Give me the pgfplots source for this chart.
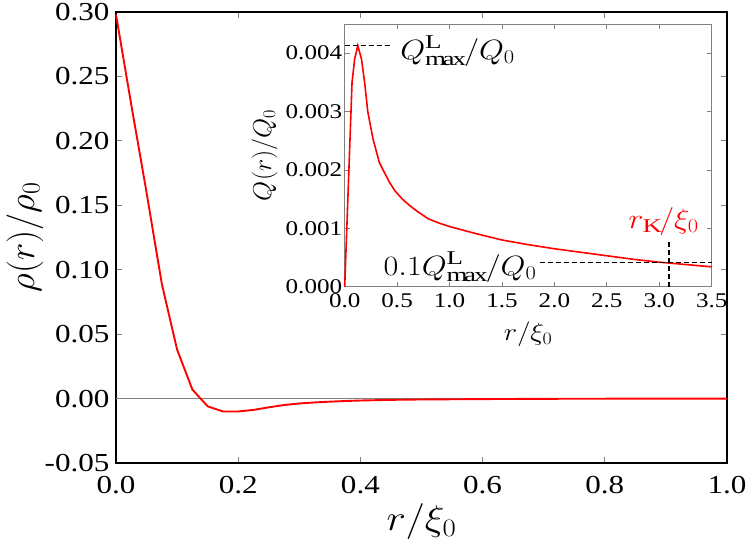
\RequirePackage{fix-cm}
\documentclass[border=0pt]{standalone}
\usepackage{fontspec}
\setmainfont{Liberation Serif}[FakeStretch=1.2]
\usepackage{graphicx}
\usepackage{pgfplots}
\pgfplotsset{compat=1.18}
\newcommand{\hs}[1]{\scalebox{1.15}[1]{#1}}
\begin{document}
\begin{tikzpicture}
\useasboundingbox (-116bp,-84bp) rectangle (631bp,463bp);
\begin{axis}[
  at={(0bp,0bp)}, anchor=south west,
  scale only axis, width=611bp, height=451bp,
  xmin=0, xmax=1, ymin=-0.05, ymax=0.30,
  xtick={0,0.2,0.4,0.6,0.8,1},
  xticklabels={0.0,0.2,0.4,0.6,0.8,1.0},
  ytick={-0.05,0,0.05,0.1,0.15,0.2,0.25,0.3},
  yticklabels={-0.05,0.00,0.05,0.10,0.15,0.20,0.25,0.30},
  xtick pos=both, ytick pos=both, tick align=inside,
  major tick length=6bp,
  tick style={gray, line width=0.8bp},
  axis line style={black, line width=1.2bp},
  ticklabel style={font=\fontsize{26}{28}\selectfont},
  xticklabel style={yshift=-10bp},
  yticklabel style={xshift=-3bp},
  xlabel={\hs{$r/\xi_0$}}, ylabel={$\rho(r)/\rho_0$},
  xlabel style={font=\fontsize{36}{38}\selectfont, at={(axis description cs:0.5,0)}, anchor=center, yshift=-59bp},
  ylabel style={font=\fontsize{37}{39}\selectfont, at={(axis description cs:0,0.5)}, anchor=center, yshift=91bp},
  clip=false,
]
\draw[gray, line width=1bp] (axis cs:0,0) -- (axis cs:1,0);
\addplot[red, line width=1.9bp] coordinates {
(0,0.298) (0.025,0.228) (0.05,0.160) (0.075,0.089) (0.1,0.038)
(0.125,0.007) (0.15,-0.006) (0.175,-0.010) (0.2,-0.010) (0.225,-0.0088)
(0.25,-0.0068) (0.275,-0.0050) (0.3,-0.0038) (0.325,-0.0030) (0.35,-0.0024)
(0.375,-0.0019) (0.4,-0.0015) (0.45,-0.0010) (0.5,-0.0007) (0.6,-0.0004)
(0.7,-0.0002) (0.8,-0.0001) (0.9,-0.00005) (1.0,0)
};
\end{axis}
\begin{axis}[
  at={(228.7bp,176.3bp)}, anchor=south west,
  scale only axis, width=367bp, height=262.7bp,
  xmin=0, xmax=3.5, ymin=0, ymax=0.0045,
  axis background/.style={fill=white},
  xtick={0,0.5,1,1.5,2,2.5,3,3.5},
  xticklabels={0.0,0.5,1.0,1.5,2.0,2.5,3.0,3.5},
  ytick={0,0.001,0.002,0.003,0.004},
  yticklabels={0.000,0.001,0.002,0.003,0.004},
  scaled y ticks=false,
  xtick pos=both, ytick pos=both, tick align=inside,
  major tick length=5bp,
  tick style={gray, line width=0.7bp},
  axis line style={gray, line width=0.8bp},
  ticklabel style={font=\fontsize{21}{23}\selectfont},
  xticklabel style={yshift=-3bp},
  yticklabel style={xshift=1bp},
  xlabel={\hs{$r/\xi_0$}}, ylabel={$Q(r)/Q_0$},
  xlabel style={font=\fontsize{25}{27}\selectfont, at={(axis description cs:0.5,0)}, anchor=center, yshift=-48bp},
  ylabel style={font=\fontsize{26}{28}\selectfont, at={(axis description cs:0,0.5)}, anchor=center, yshift=80bp},
  clip=false,
]
\addplot[red, line width=1.6bp] coordinates {
(0,0) (0.07,0.0035) (0.095,0.0039) (0.125,0.00413) (0.16,0.0039)
(0.19,0.0035) (0.22,0.0030) (0.27,0.00253) (0.30,0.00233) (0.33,0.00213) (0.38,0.00195)
(0.43,0.00178) (0.48,0.00164) (0.55,0.0015) (0.62,0.00139) (0.7,0.00128) (0.8,0.00116)
(0.9,0.00109) (1.0,0.00103) (1.25,0.00091)
(1.5,0.0008) (1.75,0.00072) (2.0,0.00065) (2.25,0.00059) (2.5,0.00053)
(2.75,0.00047) (3.0,0.00042) (3.25,0.00038) (3.5,0.00034)
};
\draw[black, line width=1.5bp, dash pattern=on 5bp off 3bp] (axis cs:0,0.00413) -- (axis cs:0.43,0.00413);
\draw[black, line width=1.5bp, dash pattern=on 5bp off 3bp] (axis cs:1.86,0.000413) -- (axis cs:3.5,0.000413);
\draw[black, line width=1.5bp, dash pattern=on 5bp off 3bp] (axis cs:3.093,0) -- (axis cs:3.093,0.0008);
\node[anchor=base west, inner sep=0pt, font=\fontsize{28}{30}\selectfont] at (axis cs:0.528,0.0039) {\hs{$Q^{\mathrm{L}}_{\max}/Q_0$}};
\node[anchor=base east, inner sep=0pt, font=\fontsize{28}{30}\selectfont] at (axis cs:1.83,0.0002) {\hs{$0.1Q^{\mathrm{L}}_{\max}/Q_0$}};
\node[anchor=base west, inner sep=0pt, red, font=\fontsize{28}{30}\selectfont] at (axis cs:2.705,0.001) {\hs{$r_{\mathrm{K}}/\xi_0$}};
\end{axis}
\end{tikzpicture}
\end{document}
